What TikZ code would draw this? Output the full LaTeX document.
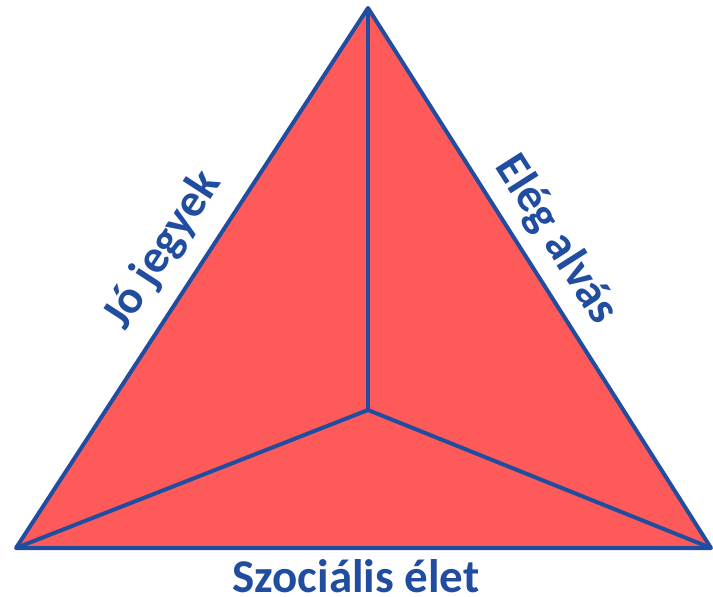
\documentclass[tikz,border=0pt]{standalone}
\usepackage{fontspec}
\setmainfont{Carlito}
\usepackage{xcolor}
\usepackage{tikz}
\definecolor{edgeblue}{RGB}{33,77,160}
\definecolor{facered}{RGB}{255,90,90}

\begin{document}
\begin{tikzpicture}[x=1pt,y=-1pt,
  edge/.style={draw=edgeblue,line width=4pt,line join=round},
  lbl/.style={text=edgeblue,font=\fontsize{47}{50}\selectfont\bfseries,inner sep=0pt}]
  \useasboundingbox (0,0) rectangle (713,597);
  \coordinate (A) at (368,8);
  \coordinate (L) at (16,548);
  \coordinate (R) at (711,548);
  \coordinate (M) at (368,410);
  \fill[facered] (A)--(L)--(R)--cycle;
  \draw[edge] (A)--(L)--(R)--cycle;
  \draw[edge] (A)--(M); \draw[edge] (L)--(M); \draw[edge] (R)--(M);
  \node[lbl,rotate=57](grades) at (163,250) {Jó jegyek};
  \node[lbl,rotate=-57.5](sleep) at (556,240) {Elég alvás};
  \node[lbl](social) at (356,576) {Szociális élet};
\end{tikzpicture}
\end{document}
